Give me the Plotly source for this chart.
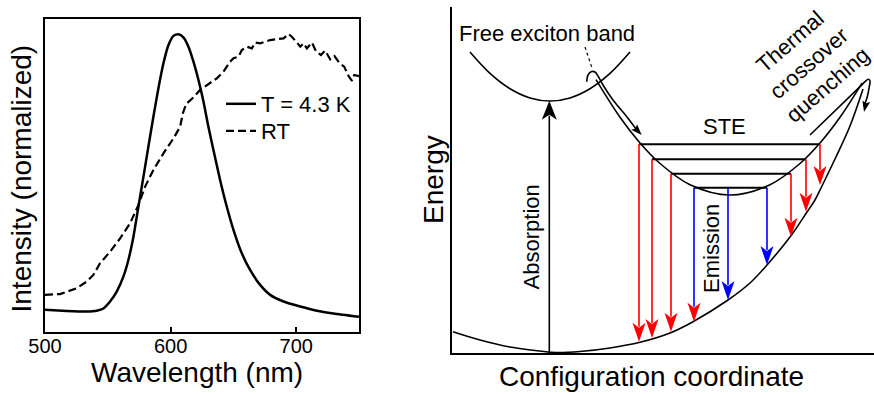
import plotly.graph_objects as go

FONT = "Liberation Sans, Arial, sans-serif"

# ---------------- Left panel: PL spectra ----------------
wl_43K = [500, 517.3, 533.2, 541.2, 546.5, 551.8, 557.1, 562.4, 566.4, 570.4, 574.4, 578.4,
          582.3, 586.3, 590.3, 594.3, 598.3, 602.3, 606.2, 610.2, 614.2, 618.2, 622.2, 626.2,
          630.1, 634.1, 639.4, 644.7, 650.1, 656.7, 663.3, 671.3, 679.3, 689.9, 703.2, 716.5,
          729.7, 750]
int_43K = [0.0, -0.004, -0.006, -0.003, 0.005, 0.030, 0.066, 0.120, 0.180, 0.264, 0.373, 0.481,
           0.589, 0.697, 0.800, 0.890, 0.956, 0.989, 0.995, 0.984, 0.950, 0.896, 0.830, 0.751,
           0.661, 0.577, 0.469, 0.373, 0.288, 0.204, 0.144, 0.090, 0.054, 0.030, 0.012, -0.003,
           -0.013, -0.025]

wl_RT = [500, 512, 525.2, 533.2, 538.5, 543.8, 551.8, 559.8, 567.7, 574.4, 579.7, 586.3, 594.3,
         602.3, 607.6, 609.7, 612.4, 618.2, 623.5, 628.8, 636.8, 642.1, 647.4, 650.1, 654.1, 656.7,
         660.7, 664.7, 667.3, 671.3, 675.3, 679.3, 684.6, 689.9, 693.9, 696.5, 700, 703.2, 705.8,
         708.5, 712.5, 715.9, 719.7, 723.1, 727.1, 730.5, 734.5, 738.2, 741.7, 744.4, 746.2, 750]
int_RT = [0.054, 0.057, 0.078, 0.102, 0.126, 0.168, 0.210, 0.258, 0.312, 0.379, 0.445, 0.505, 0.565,
          0.619, 0.661, 0.709, 0.743, 0.767, 0.794, 0.812, 0.836, 0.860, 0.896, 0.908, 0.914, 0.938,
          0.950, 0.944, 0.965, 0.962, 0.968, 0.974, 0.977, 0.980, 0.996, 0.986, 0.968, 0.950, 0.962,
          0.944, 0.965, 0.932, 0.920, 0.936, 0.904, 0.916, 0.890, 0.878, 0.844, 0.827, 0.848, 0.844]

x_ticks = [500, 600, 700]
series_names = ["T = 4.3 K", "RT"]

# ---------------- Right panel: configuration-coordinate diagram (arbitrary units) ----------------
gs_x = [1, 28, 58, 88, 104, 128, 158, 188, 218, 241, 276, 298, 315, 338, 355, 363, 369, 383, 398, 411]
gs_E = [21.3, 13, 6, 2, 0.5, 1.5, 5, 10.7, 20, 31.3, 53, 70, 88, 116, 141, 153, 165, 194, 227, 264]

fe_x = [18, 38, 58, 78, 98, 118, 138, 158, 178]
fe_E = [301, 279.6, 264.3, 255.1, 252, 255.1, 264.3, 279.6, 301]

ste_x = [144, 168, 188, 208, 238, 278, 318, 348, 368, 388, 410]
ste_E = [273.3, 235.7, 210, 189.5, 168.3, 158, 168.3, 189.5, 210, 235.7, 269.9]

lvl_E = [208.7, 193.7, 179.3, 165.3]
lvl_x0 = [187, 200, 219, 242]
lvl_x1 = [368, 354, 339, 315]

em_x = [187, 200, 219, 242, 276, 315, 339, 354, 368]
em_E0 = [208.7, 193.7, 179.3, 165.3, 165.3, 165.3, 179.3, 193.7, 208.7]
em_E1 = [11.3, 15, 21.3, 31.3, 53, 88, 116.3, 141.3, 168]
em_shaft = ["red", "red", "red", "blue", "blue", "blue", "red", "red", "red"]
em_head = ["red", "red", "red", "red", "blue", "blue", "red", "red", "red"]

abs_x = [97.3, 97.3]
abs_E = [0, 252.3]

hook_x = [134.7, 136, 139.7, 143, 146, 151, 161, 175, 184]
hook_E = [271.3, 278, 281.5, 281, 277, 268, 253, 236, 224]
hook_tip = (189.7, 218)

dash_x = [133, 140]
dash_E = [306, 285]

th_x = [358, 408, 413, 416.3, 418, 417.3, 415.3]
th_E = [218, 266.3, 271.3, 273.7, 272.3, 266.3, 256.3]
th_tip = (412, 241)


def head_path(tx, ty, dx, dy, length, width, notch):
    n = (dx * dx + dy * dy) ** 0.5
    ux, uy = dx / n, dy / n
    px_, py_ = -uy, ux
    bx, by = tx - ux * length, ty - uy * length
    lx, ly = bx + px_ * width / 2, by + py_ * width / 2
    rx, ry = bx - px_ * width / 2, by - py_ * width / 2
    mx, my = tx - ux * (length - notch), ty - uy * (length - notch)
    return f"M{tx},{ty} L{lx},{ly} L{mx},{my} L{rx},{ry} Z"


fig = go.Figure()

fig.add_trace(go.Scatter(x=wl_43K, y=int_43K, mode="lines", name=series_names[0],
                         line=dict(color="black", width=2.5, shape="spline", smoothing=0.6),
                         xaxis="x", yaxis="y", legend="legend"))
fig.add_trace(go.Scatter(x=wl_RT, y=int_RT, mode="lines", name=series_names[1],
                         line=dict(color="black", width=2.2, dash="8px,4px"),
                         xaxis="x", yaxis="y", legend="legend2"))

R = dict(xaxis="x2", yaxis="y2", showlegend=False, hoverinfo="skip", mode="lines")

fig.add_trace(go.Scatter(x=gs_x, y=gs_E, line=dict(color="black", width=1.6, shape="spline"), **R))
fig.add_trace(go.Scatter(x=fe_x, y=fe_E, line=dict(color="black", width=1.6, shape="spline"), **R))
fig.add_trace(go.Scatter(x=ste_x, y=ste_E, line=dict(color="black", width=1.6, shape="spline"), **R))
for e, a, b in zip(lvl_E, lvl_x0, lvl_x1):
    fig.add_trace(go.Scatter(x=[a, b], y=[e, e], line=dict(color="black", width=2), **R))

shapes = []
HL, HW, HN = 19, 13, 5
for x, e0, e1, cs, ch in zip(em_x, em_E0, em_E1, em_shaft, em_head):
    fig.add_trace(go.Scatter(x=[x, x], y=[e0, e1 + HL - 4], line=dict(color=cs, width=1.6), **R))
    shapes.append(dict(type="path", xref="x2", yref="y2", path=head_path(x, e1, 0, -1, HL, HW, HN),
                       fillcolor=ch, line=dict(width=0)))

fig.add_trace(go.Scatter(x=abs_x, y=[abs_E[0], abs_E[1] - 15], line=dict(color="black", width=1.6), **R))
shapes.append(dict(type="path", xref="x2", yref="y2",
                   path=head_path(abs_x[1], abs_E[1], 0, 1, 19, 15, 5),
                   fillcolor="black", line=dict(width=0)))

fig.add_trace(go.Scatter(x=hook_x, y=hook_E, line=dict(color="black", width=1.6, shape="spline"), **R))
shapes.append(dict(type="path", xref="x2", yref="y2",
                   path=head_path(hook_tip[0], hook_tip[1], hook_tip[0] - hook_x[-1],
                                  hook_tip[1] - hook_E[-1], 11, 8, 2),
                   fillcolor="black", line=dict(width=0)))
fig.add_trace(go.Scatter(x=dash_x, y=dash_E, line=dict(color="black", width=1.2, dash="3px,3px"), **R))

fig.add_trace(go.Scatter(x=th_x + [th_tip[0]], y=th_E + [th_tip[1] + 6],
                         line=dict(color="black", width=1.6, shape="spline"), **R))
shapes.append(dict(type="path", xref="x2", yref="y2",
                   path=head_path(th_tip[0], th_tip[1], th_tip[0] - th_x[-1], th_tip[1] - th_E[-1], 11, 8, 2),
                   fillcolor="black", line=dict(width=0)))

W, H = 874, 394


def px(x):
    return x / W


def py(y):
    return 1 - y / H


ann = []
T = dict(showarrow=False, xanchor="center", yanchor="middle",
         font=dict(family=FONT, size=22, color="black"))
ann.append(dict(text="Free exciton band", x=94.7, y=320, xref="x2", yref="y2", **T))
ann.append(dict(text="STE", x=272, y=227, xref="x2", yref="y2", **T))
ann.append(dict(text="Thermal<br>crossover<br>quenching", x=357, y=290, xref="x2", yref="y2",
                textangle=-41, **T))
ann.append(dict(text="Absorption", x=79.7, y=116.3, xref="x2", yref="y2", textangle=-90, **T))
ann.append(dict(text="Emission", x=259, y=104, xref="x2", yref="y2", textangle=-90, **T))
B = dict(showarrow=False, xanchor="center", yanchor="middle",
         font=dict(family=FONT, size=28, color="black"), xref="paper", yref="paper")
ann.append(dict(text="Energy", x=px(433), y=py(180), textangle=-90, **B))
ann.append(dict(text="Configuration coordinate", x=px(651), y=py(376), **B))
ann.append(dict(text="Intensity (normalized)", x=px(21), y=py(178.5), textangle=-90, **B))
ann.append(dict(text="Wavelength (nm)", x=px(197), y=py(372), **B))

LEG = dict(xanchor="left", yanchor="top", bgcolor="rgba(0,0,0,0)",
           font=dict(size=22, family=FONT), itemwidth=30)

fig.update_layout(
    width=W, height=H, autosize=False, margin=dict(l=0, r=0, t=0, b=0, pad=0, autoexpand=False),
    paper_bgcolor="white", plot_bgcolor="white",
    font=dict(family=FONT, color="black"),
    showlegend=True,
    legend=dict(x=px(221), y=py(83), **LEG),
    legend2=dict(x=px(221), y=py(110), **LEG),
    xaxis=dict(domain=[45 / W, 359 / W], range=[500, 750], tickvals=x_ticks, ticks="inside",
               ticklen=5, tickwidth=1.5, tickcolor="black", showline=True, linewidth=1.5,
               linecolor="black", mirror=True, showgrid=False, zeroline=False, automargin=False,
               ticklabelstandoff=-5, tickfont=dict(size=20, family=FONT), anchor="y"),
    yaxis=dict(domain=[62 / H, 375 / H], range=[-0.08, 1.05], showticklabels=False, ticks="",
               showline=True, linewidth=1.5, linecolor="black", mirror=True, showgrid=False,
               zeroline=False, anchor="x", automargin=False),
    xaxis2=dict(domain=[452 / W, 1.0], range=[0, 422], showticklabels=False, ticks="",
                showline=True, linewidth=2, linecolor="black", showgrid=False, zeroline=False,
                anchor="y2", automargin=False),
    yaxis2=dict(domain=[41 / H, 387 / H], range=[0, 346], showticklabels=False, ticks="",
                showline=True, linewidth=2, linecolor="black", showgrid=False, zeroline=False,
                anchor="x2", automargin=False),
    shapes=shapes,
    annotations=ann,
)

fig.write_html("out.html")
